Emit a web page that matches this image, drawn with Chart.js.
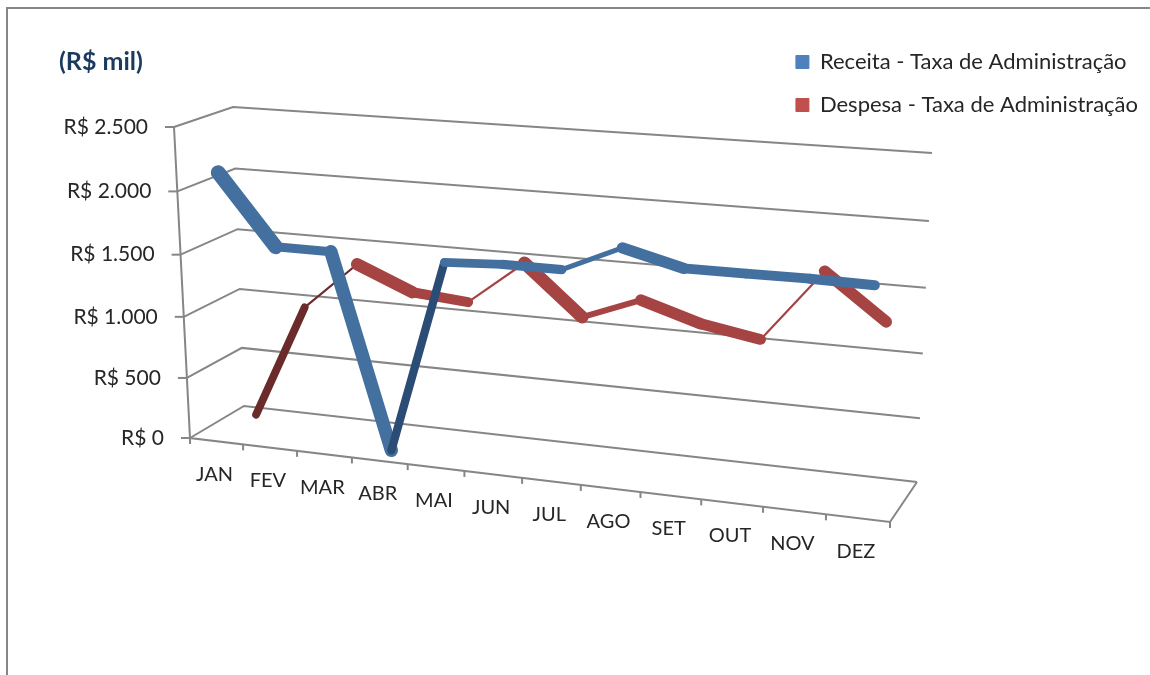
<!DOCTYPE html>
<html>
<head>
<meta charset="utf-8">
<title>Taxa de Administração</title>
<script src="https://cdn.jsdelivr.net/npm/chart.js@4"></script>
<style>
html, body { margin: 0; padding: 0; background: #fff; overflow: hidden; }
#frame { position: absolute; left: 6px; top: 7px; width: 1150px; height: 675px; border-left: 2px solid #868686; border-top: 2px solid #868686; }
#canvas { position: absolute; left: 0; top: 0; }
</style>
</head>
<body>
<div id="frame"></div>
<canvas id="canvas" width="1150" height="675"></canvas>
<script>
var months = ["JAN", "FEV", "MAR", "ABR", "MAI", "JUN", "JUL", "AGO", "SET", "OUT", "NOV", "DEZ"];
var yTickLabels = ["R$ 0", "R$ 500", "R$ 1.000", "R$ 1.500", "R$ 2.000", "R$ 2.500"];
var receita = [2120, 1570, 1570, 15, 1565, 1590, 1590, 1794, 1680, 1682, 1685, 1678];
var despesa = [20, 968, 1362, 1176, 1138, 1490, 1104, 1280, 1140, 1062, 1624, 1285];

// corners of the 3d box as seen in the picture, depth 0 = front, 1 = back
var frontQuad = [[174, 127], [907, 180], [890, 522], [190, 438]];
var backQuad = [[233, 107], [932, 153], [917, 482], [244, 406]];
var seriesDepth = [0.25, 0.75];
var ribbonDepth = 0.24;
var axisColor = "#868686";
var textColor = "#262626";
var fontName = "Lato";

function lerp(a, b, t) { return a + (b - a) * t; }

// unit square to quad at the given depth
function project(u, v, depth) {
    var q = frontQuad.map(function(p, i) {
        return [lerp(p[0], backQuad[i][0], depth), lerp(p[1], backQuad[i][1], depth)];
    });
    var dx1 = q[1][0] - q[2][0], dx2 = q[3][0] - q[2][0], sx = q[0][0] - q[1][0] + q[2][0] - q[3][0];
    var dy1 = q[1][1] - q[2][1], dy2 = q[3][1] - q[2][1], sy = q[0][1] - q[1][1] + q[2][1] - q[3][1];
    var det = dx1 * dy2 - dx2 * dy1;
    var g = (sx * dy2 - dx2 * sy) / det;
    var h = (dx1 * sy - sx * dy1) / det;
    var a = q[1][0] - q[0][0] + g * q[1][0], b = q[3][0] - q[0][0] + h * q[3][0];
    var d = q[1][1] - q[0][1] + g * q[1][1], e = q[3][1] - q[0][1] + h * q[3][1];
    var w = g * u + h * v + 1;
    return { x: (a * u + b * v + q[0][0]) / w, y: (d * u + e * v + q[0][1]) / w };
}

// apparent width of the ribbon: its depth vector seen across the segment direction
function ribbonCross(ctx) {
    var t = (ctx.p0.x + ctx.p1.x) / 2;
    t = (t - 200) / 700;
    var vx = lerp(backQuad[3][0] - frontQuad[3][0], backQuad[2][0] - frontQuad[2][0], t) * ribbonDepth;
    var vy = lerp(backQuad[3][1] - frontQuad[3][1], backQuad[2][1] - frontQuad[2][1], t) * ribbonDepth;
    var dx = ctx.p1.x - ctx.p0.x, dy = ctx.p1.y - ctx.p0.y;
    var len = Math.sqrt(dx * dx + dy * dy);
    return (vx * dy - vy * dx) / len;
}

function ribbonSegment(faceColor, darkColor) {
    return {
        borderWidth: function(ctx) { return Math.max(2.2, Math.abs(ribbonCross(ctx))); },
        borderColor: function(ctx) { return ribbonCross(ctx) > 0 ? faceColor : darkColor; },
        borderCapStyle: "round"
    };
}

var box3d = {
    id: "box3d",
    afterDatasetsUpdate: function(chart) {
        var area = chart.chartArea;
        chart.data.datasets.forEach(function(ds, i) {
            chart.getDatasetMeta(i).data.forEach(function(pt) {
                var p = project((pt.x - area.left) / area.width, (pt.y - area.top) / area.height, seriesDepth[i]);
                pt.x = p.x;
                pt.y = p.y;
            });
        });
    },
    beforeDatasetsDraw: function(chart) {
        var ctx = chart.ctx, area = chart.chartArea;
        var xs = chart.scales.x, ys = chart.scales.y;
        function line(pts) {
            ctx.beginPath();
            pts.forEach(function(p, i) { if (i) ctx.lineTo(p.x, p.y); else ctx.moveTo(p.x, p.y); });
            ctx.stroke();
        }
        ctx.save();
        ctx.strokeStyle = axisColor;
        ctx.lineWidth = 2;
        ctx.fillStyle = textColor;
        ctx.textBaseline = "middle";

        ctx.font = "21px " + fontName;
        ctx.textAlign = "right";
        ys.ticks.forEach(function(tick) {
            var v = (ys.getPixelForValue(tick.value) - area.top) / area.height;
            var f = project(0, v, 0);
            line([f, project(0, v, 1), project(1, v, 1)]);
            line([f, { x: f.x - 9, y: f.y }]);
            ctx.fillText(tick.label, f.x - 26, f.y);
        });
        line([project(0, 0, 0), project(0, 1, 0), project(1, 1, 0), project(1, 1, 1)]);

        ctx.font = "20px " + fontName;
        ctx.textAlign = "center";
        var step = area.width / xs.ticks.length;
        xs.ticks.forEach(function(tick, i) {
            var px = xs.getPixelForTick(i);
            var c = project((px - area.left) / area.width, 1, 0);
            ctx.fillText(tick.label, c.x - 2, c.y + 33);
            var edge = project((px + step / 2 - area.left) / area.width, 1, 0);
            line([edge, { x: edge.x, y: edge.y + 6 }]);
        });
        var first = project(0, 1, 0);
        line([first, { x: first.x, y: first.y + 6 }]);
        ctx.restore();
    }
};

window.onload = function() {
    var ctx = document.getElementById("canvas").getContext("2d");
    new Chart(ctx, {
        type: "line",
        data: {
            labels: months,
            datasets: [{
                label: "Receita - Taxa de Administração",
                data: receita,
                backgroundColor: "#4F81BD",
                borderColor: "#4F81BD",
                borderWidth: 1,
                pointRadius: 0,
                clip: false,
                segment: ribbonSegment("#44709F", "#2B4C74")
            }, {
                label: "Despesa - Taxa de Administração",
                data: despesa,
                backgroundColor: "#C0504D",
                borderColor: "#C0504D",
                borderWidth: 1,
                pointRadius: 0,
                clip: false,
                segment: ribbonSegment("#A64444", "#6B2B2B")
            }]
        },
        options: {
            responsive: false,
            animation: false,
            events: [],
            layout: { padding: { left: 59, top: 30, right: 2, bottom: 60 } },
            plugins: {
                tooltip: { enabled: false },
                title: {
                    display: true,
                    text: "(R$ mil)",
                    align: "start",
                    fullSize: false,
                    color: "#1B3A5E",
                    font: { family: fontName, size: 25, weight: "bold" },
                    padding: { top: 17, bottom: 0 }
                },
                legend: {
                    position: "right",
                    align: "start",
                    labels: {
                        color: textColor,
                        font: { family: fontName, size: 22 },
                        boxWidth: 13,
                        boxHeight: 13,
                        padding: 21
                    }
                }
            },
            scales: {
                x: { display: false, offset: true },
                y: {
                    display: false,
                    min: 0,
                    max: 2500,
                    ticks: {
                        stepSize: 500,
                        callback: function(value, i) { return yTickLabels[i]; }
                    }
                }
            }
        },
        plugins: [box3d]
    });
};
</script>
</body>
</html>
